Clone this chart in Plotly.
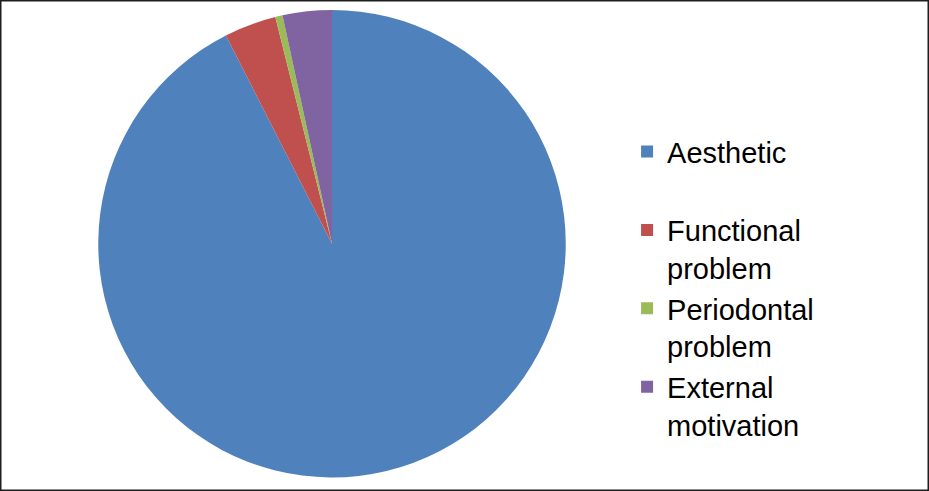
import plotly.graph_objects as go

labels = ["Aesthetic", "Functional problem", "Periodontal problem", "External motivation"]
legend_labels = ["Aesthetic<br> ", "Functional<br>problem", "Periodontal<br>problem", "External<br>motivation"]
values = [92.5, 3.6, 0.5, 3.4]
colors = ["#4F81BD", "#C0504D", "#9BBB59", "#8064A2"]

fig = go.Figure(go.Pie(
    labels=legend_labels,
    values=values,
    sort=False,
    direction="clockwise",
    rotation=0,
    marker=dict(colors=colors, line=dict(color="#FFFFFF", width=0)),
    textinfo="none",
    hoverinfo="label+percent",
    domain=dict(x=[98/929, 566/929], y=[1-477.5/491, 1-10/491]),
))

fig.update_layout(
    width=929, height=491,
    margin=dict(l=0, r=0, t=0, b=0),
    paper_bgcolor="#FFFFFF",
    plot_bgcolor="#FFFFFF",
    font=dict(family="Liberation Sans, Arial, sans-serif", color="#000000"),
    legend=dict(
        x=0.675, y=0.743, xanchor="left", yanchor="top",
        font=dict(size=29, color="#000000"),
        valign="top",
        itemsizing="constant",
        bgcolor="rgba(0,0,0,0)",
    ),
    showlegend=True,
    shapes=[dict(type="rect", xref="paper", yref="paper", x0=0, x1=1, y0=0, y1=1,
                 line=dict(color="#1E1E1E", width=3))],
)

fig.write_html("out.html", config={"displayModeBar": False},
               post_script="document.body.style.margin='0';document.body.style.overflow='hidden';")
